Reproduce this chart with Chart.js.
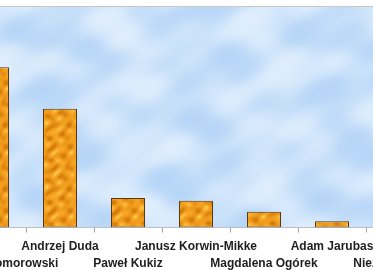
<!DOCTYPE html>
<html>
<head>
<meta charset="utf-8">
<script src="https://cdn.jsdelivr.net/npm/chart.js@4.4.1/dist/chart.umd.min.js"></script>
<style>
  html, body { margin: 0; padding: 0; width: 373px; height: 270px; overflow: hidden; background: #ffffff; }
  #wrap { position: absolute; left: -42px; top: 0; width: 476px; height: 270px; }
</style>
</head>
<body>
<div id="wrap"><canvas id="c"></canvas></div>
<script>
// ---- data ----
const categories = [
  'Bronisław Komorowski',
  'Andrzej Duda',
  'Paweł Kukiz',
  'Janusz Korwin-Mikke',
  'Magdalena Ogórek',
  'Adam Jarubas',
  'Niezdecydowani'
];
const support = [43.6, 32.3, 8.0, 7.3, 4.3, 1.7, 5.0];
const yMax = 60;

// ---- textures ----
function makeBarPattern() {
  const s = 64, cv = document.createElement('canvas');
  cv.width = s; cv.height = s;
  const g = cv.getContext('2d'), img = g.createImageData(s, s);
  const k = 2 * Math.PI / s;
  for (let y = 0; y < s; y++) for (let x = 0; x < s; x++) {
    let v = Math.sin(4 * k * x + 1.6 * Math.sin(3 * k * y)) * 0.5
          + Math.sin(6 * k * y + 1.4 * Math.sin(2 * k * x)) * 0.35
          + Math.sin(7 * k * x + 5 * k * y) * 0.2;
    v = (v + 1.05) / 2.1; v = Math.max(0, Math.min(1, v));
    const a = [206, 118, 10], b = [242, 158, 28], c = [255, 204, 84];
    let col;
    if (v < 0.5) { const t = v / 0.5; col = a.map((q, i) => q + (b[i] - q) * t); }
    else { const t = (v - 0.5) / 0.5; col = b.map((q, i) => q + (c[i] - q) * t * t); }
    const o = (y * s + x) * 4;
    img.data[o] = col[0]; img.data[o + 1] = col[1]; img.data[o + 2] = col[2]; img.data[o + 3] = 255;
  }
  g.putImageData(img, 0, 0);
  return document.getElementById('c').getContext('2d').createPattern(cv, 'repeat');
}

let skyCache = null;
function makeSky(w, h) {
  const cv = document.createElement('canvas');
  cv.width = w; cv.height = h;
  const g = cv.getContext('2d'), img = g.createImageData(w, h);
  for (let y = 0; y < h; y++) for (let x = 0; x < w; x++) {
    let v = 0.5 * Math.sin(x * 0.045 + 1.3 * Math.sin(y * 0.08))
          + 0.35 * Math.sin(y * 0.11 + 2 * Math.sin(x * 0.021))
          + 0.25 * Math.sin(x * 0.09 - y * 0.05 + 1.0)
          + 0.15 * Math.sin(x * 0.13 + y * 0.17);
    v = (v + 1.25) / 2.5; v = Math.max(0, Math.min(1, v));
    v = v * v * (3 - 2 * v);
    const a = [182, 213, 247], b = [223, 238, 253];
    const o = (y * w + x) * 4;
    img.data[o] = a[0] + (b[0] - a[0]) * v;
    img.data[o + 1] = a[1] + (b[1] - a[1]) * v;
    img.data[o + 2] = a[2] + (b[2] - a[2]) * v;
    img.data[o + 3] = 255;
  }
  g.putImageData(img, 0, 0);
  return cv;
}

const skyPlugin = {
  id: 'sky',
  beforeDraw(chart) {
    const { ctx, chartArea: a } = chart;
    const w = Math.round(a.right - a.left), h = Math.round(a.bottom - a.top);
    if (!skyCache || skyCache.width !== w || skyCache.height !== h) skyCache = makeSky(w, h);
    ctx.save();
    ctx.drawImage(skyCache, a.left, a.top);
    ctx.strokeStyle = '#c8c8c8';
    ctx.lineWidth = 1;
    ctx.beginPath();
    ctx.moveTo(a.left, a.top - 0.5);
    ctx.lineTo(a.right, a.top - 0.5);
    ctx.stroke();
    ctx.restore();
  }
};

const barPattern = makeBarPattern();

new Chart(document.getElementById('c'), {
  type: 'bar',
  data: {
    labels: categories,
    datasets: [{
      data: support,
      backgroundColor: barPattern,
      borderColor: '#5a3a16',
      borderWidth: 1,
      borderSkipped: false,
      categoryPercentage: 1.0,
      barPercentage: 0.5
    }]
  },
  options: {
    responsive: true,
    maintainAspectRatio: false,
    animation: false,
    layout: { padding: { top: 7, left: 0, right: 0, bottom: 0 } },
    plugins: { legend: { display: false }, tooltip: { enabled: false } },
    scales: {
      x: {
        offset: true,
        grid: { display: true, drawOnChartArea: false, drawTicks: true, tickLength: 5, color: '#a0a0a0', offset: true },
        border: { display: true, color: '#bfbfbf' },
        ticks: {
          autoSkip: false, maxRotation: 0, minRotation: 0, padding: 6,
          color: '#1e1e1e',
          font: { family: "'Liberation Sans', Arial, sans-serif", size: 12, weight: 'bold', lineHeight: 1.4 },
          callback: function (value, index) {
            const lbl = categories[index];
            return index % 2 === 0 ? ['', lbl] : [lbl];
          }
        },
        afterFit: function (scale) { scale.paddingLeft = 0; scale.paddingRight = 0; scale.height = 42.5; }
      },
      y: {
        display: false,
        min: 0,
        max: yMax
      }
    }
  },
  plugins: [skyPlugin]
});
</script>
</body>
</html>
